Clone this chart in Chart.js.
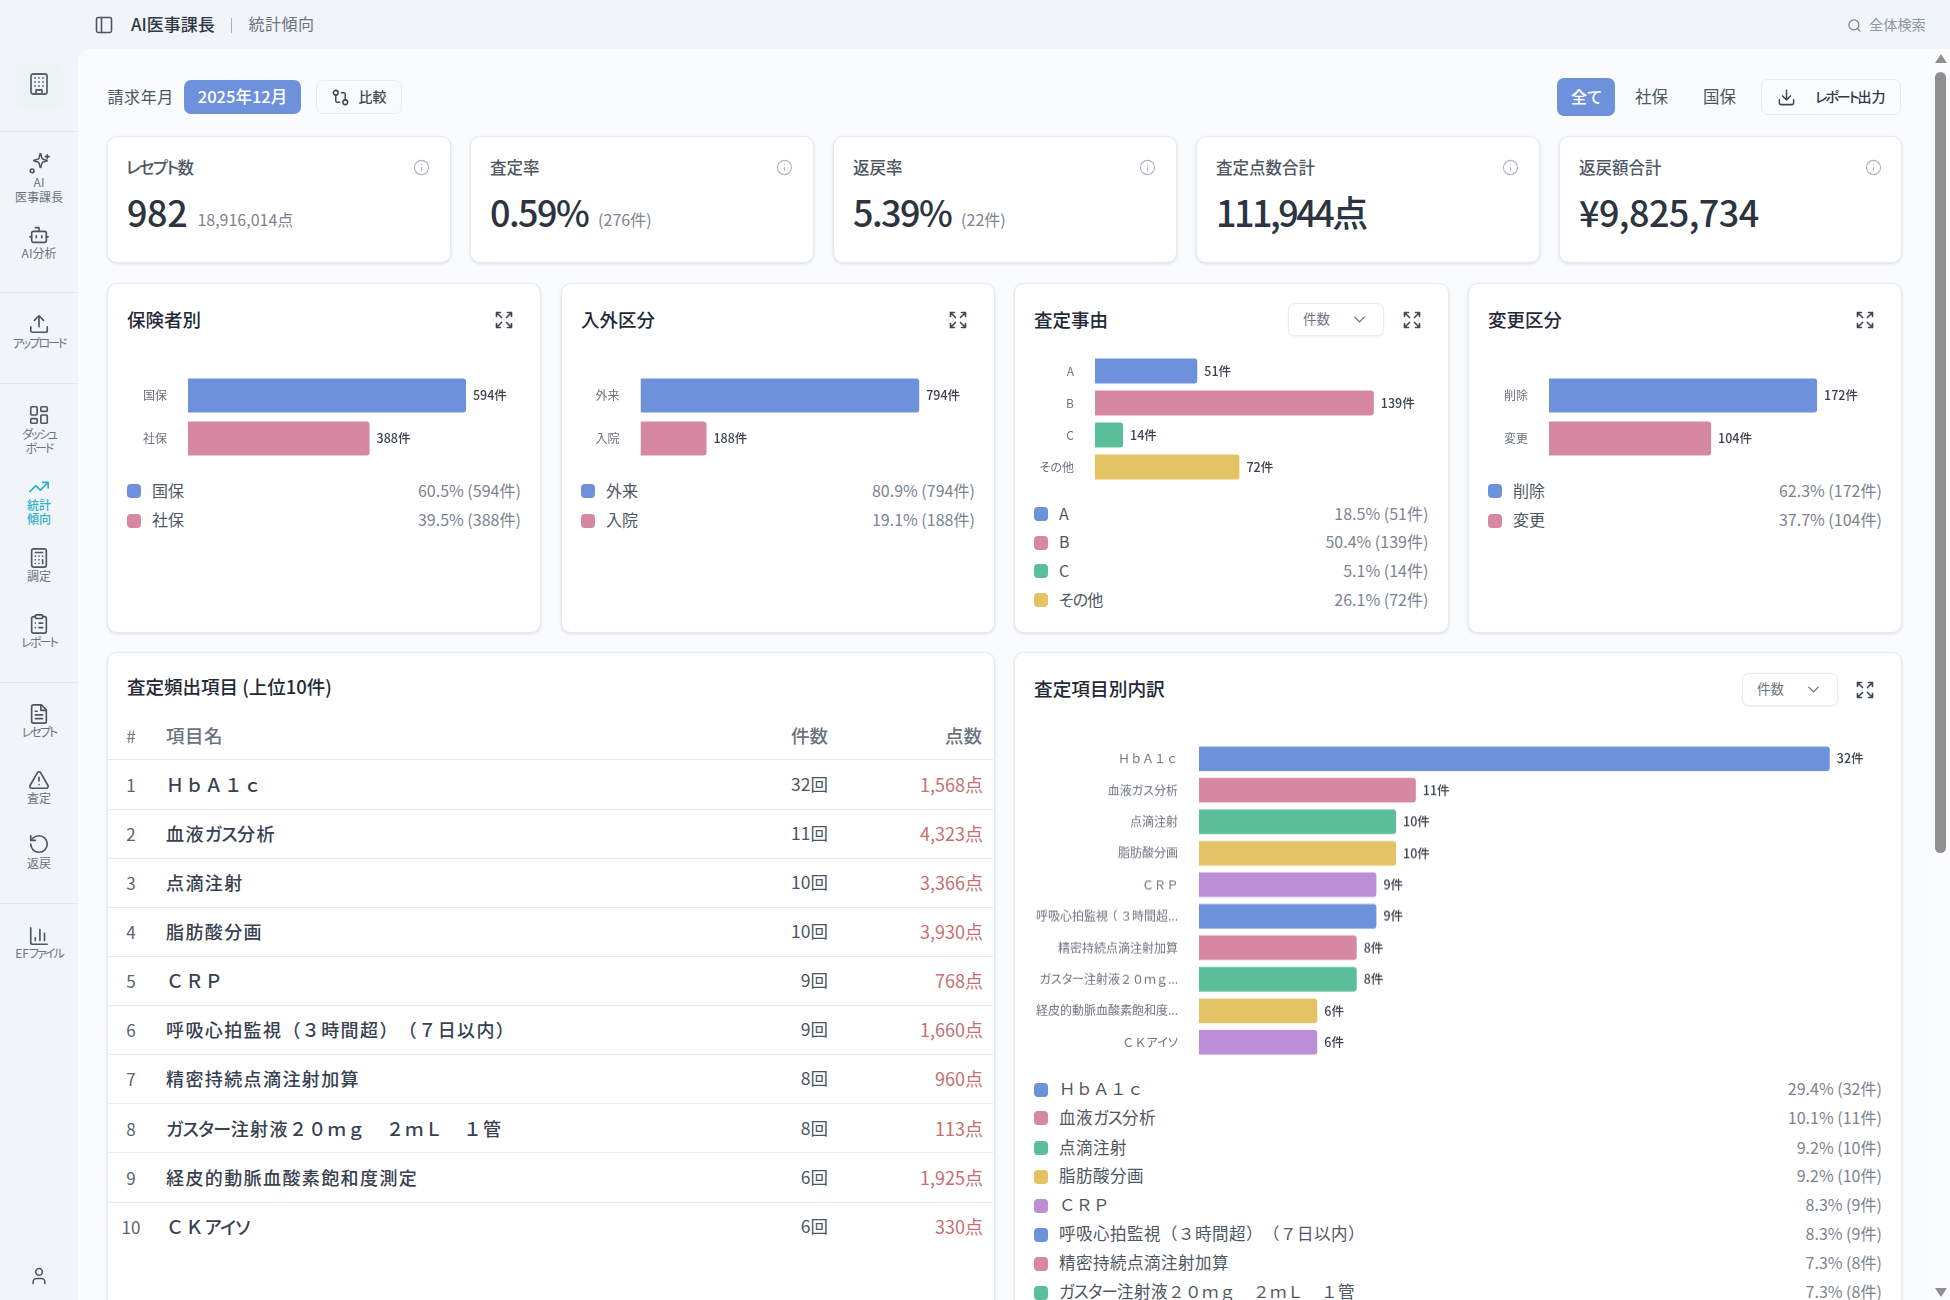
<!DOCTYPE html>
<html lang="ja"><head><meta charset="utf-8"><title>統計傾向</title>
<script src="https://cdn.jsdelivr.net/npm/chart.js@4"></script>
<style>
html,body{margin:0;padding:0;width:1950px;height:1300px;overflow:hidden;background:#f1f4f8;font-family:"Noto Sans CJK JP","Noto Sans",sans-serif;font-feature-settings:"palt";text-spacing-trim:space-all}
#page{position:absolute;left:0;top:0;width:1950px;height:1300px;overflow:hidden}
.a{position:absolute;box-sizing:border-box}
.t{position:absolute;white-space:pre;line-height:1;transform:translateY(-50%)}
.t span.f{font-feature-settings:normal}
.card{position:absolute;box-sizing:border-box;background:#fff;border:1px solid #e6eaef;border-radius:10px;box-shadow:0 1px 3px rgba(60,70,90,.16)}
canvas{position:absolute;display:block}
svg.i{position:absolute;fill:none;stroke:currentColor;stroke-linecap:round;stroke-linejoin:round}
</style></head><body><div id="page"></div>
<script>
// ---- data ----
const insurerLabels=['国保','社保'];
const insurerValues=[594,388];
const insurerPct=[60.5,39.5];
const visitLabels=['外来','入院'];
const visitValues=[794,188];
const visitPct=[80.9,19.1];
const reasonLabels=['A','B','C','その他'];
const reasonValues=[51,139,14,72];
const reasonPct=[18.5,50.4,5.1,26.1];
const changeLabels=['削除','変更'];
const changeValues=[172,104];
const changePct=[62.3,37.7];
const itemNames=['ＨｂＡ１ｃ','血液ガス分析','点滴注射','脂肪酸分画','ＣＲＰ','呼吸心拍監視（３時間超）（７日以内）','精密持続点滴注射加算','ガスター注射液２０ｍｇ　２ｍＬ　１管','経皮的動脈血酸素飽和度測定','ＣＫアイソ'];
const itemTicks=['ＨｂＡ１ｃ','血液ガス分析','点滴注射','脂肪酸分画','ＣＲＰ','呼吸心拍監視（３時間超...','精密持続点滴注射加算','ガスター注射液２０ｍｇ...','経皮的動脈血酸素飽和度...','ＣＫアイソ'];
const itemCounts=[32,11,10,10,9,9,8,8,6,6];
const itemPoints=['1,568','4,323','3,366','3,930','768','1,660','960','113','1,925','330'];
const itemPct=[29.4,10.1,9.2,9.2,8.3,8.3,7.3,7.3,5.5,5.5];
const kpiTitles=['レセプト数','査定率','返戻率','査定点数合計','返戻額合計'];
const kpiValues=['982','0.59%','5.39%','111,944点','¥9,825,734'];
const kpiSubs=['18,916,014点','(276件)','(22件)','',''];
const palette=['#6d91da','#d688a2','#5bbe9b','#e4c365','#bc8ed5'];

const FONT='"Noto Sans CJK JP","Noto Sans",sans-serif';
const kpiSpacing=[-.4,-1.6,-1.6,-2.5,-.6];
const page=document.getElementById('page');
const I={
panel:'<rect x="3" y="3" width="18" height="18" rx="2"/><path d="M9 3v18"/>',
building:'<rect x="4" y="2" width="16" height="20" rx="2"/><path d="M9 22v-4h6v4M8 6h.01M16 6h.01M12 6h.01M12 10h.01M12 14h.01M16 10h.01M16 14h.01M8 10h.01M8 14h.01"/>',
spark:'<path d="M9.9 15.5A2 2 0 0 0 8.5 14L4 12.8a.5.5 0 0 1 0-1L8.5 10.6A2 2 0 0 0 9.9 9.2L11 4.5a.5.5 0 0 1 1 0L13.2 9.2A2 2 0 0 0 14.6 10.6L19 11.8a.5.5 0 0 1 0 1L14.6 14A2 2 0 0 0 13.2 15.5L12 20a.5.5 0 0 1-1 0z" transform="translate(3 -3) scale(.92)"/><circle cx="4.5" cy="19.5" r="2"/><path d="M21 2v4M19 4h4"/>',
bot:'<path d="M12 8V4H8"/><rect x="4" y="8" width="16" height="12" rx="2"/><path d="M2 14h2M20 14h2M15 13v2M9 13v2"/>',
upload:'<path d="M21 15v4a2 2 0 0 1-2 2H5a2 2 0 0 1-2-2v-4"/><path d="M17 8l-5-5-5 5M12 3v12"/>',
dash:'<rect x="3" y="3" width="7" height="9" rx="1"/><rect x="14" y="3" width="7" height="5" rx="1"/><rect x="14" y="12" width="7" height="9" rx="1"/><rect x="3" y="16" width="7" height="5" rx="1"/>',
trend:'<path d="M22 7l-8.5 8.5-5-5L2 17M16 7h6v6"/>',
calc:'<rect x="4" y="2" width="16" height="20" rx="2"/><path d="M8 6h8M16 14v4M16 10h.01M12 10h.01M8 10h.01M12 14h.01M8 14h.01M12 18h.01M8 18h.01"/>',
clip:'<rect x="8" y="2" width="8" height="4" rx="1"/><path d="M16 4h2a2 2 0 0 1 2 2v14a2 2 0 0 1-2 2H6a2 2 0 0 1-2-2V6a2 2 0 0 1 2-2h2M12 11h4M12 16h4M8 11h.01M8 16h.01"/>',
file:'<path d="M14.5 2H6a2 2 0 0 0-2 2v16a2 2 0 0 0 2 2h12a2 2 0 0 0 2-2V7.5L14.5 2z"/><path d="M14 2v6h6M16 13H8M16 17H8M10 9H8"/>',
alert:'<path d="M21.73 18l-8-14a2 2 0 0 0-3.48 0l-8 14A2 2 0 0 0 4 21h16a2 2 0 0 0 1.73-3M12 9v4M12 17h.01"/>',
undo:'<path d="M3 12a9 9 0 1 0 9-9 9.75 9.75 0 0 0-6.74 2.74L3 8"/><path d="M3 3v5h5"/>',
bars:'<path d="M3 3v16a2 2 0 0 0 2 2h16M18 17V9M13 17V5M8 17v-3"/>',
user:'<path d="M19 21v-2a4 4 0 0 0-4-4H9a4 4 0 0 0-4 4v2"/><circle cx="12" cy="7" r="4"/>',
search:'<circle cx="11" cy="11" r="8"/><path d="M21 21l-4.3-4.3"/>',
info:'<circle cx="12" cy="12" r="10"/><path d="M12 16v-4M12 8h.01"/>',
down:'<path d="M21 15v4a2 2 0 0 1-2 2H5a2 2 0 0 1-2-2v-4M7 10l5 5 5-5M12 15V3"/>',
compare:'<circle cx="18" cy="18" r="3"/><circle cx="6" cy="6" r="3"/><path d="M13 6h3a2 2 0 0 1 2 2v7M11 18H8a2 2 0 0 1-2-2V9"/>',
expand:'<path d="M21 21l-6-6m6 6v-4.8m0 4.8h-4.8M3 16.2V21m0 0h4.8M3 21l6-6M21 7.8V3m0 0h-4.8M21 3l-6 6M3 7.8V3m0 0h4.8M3 3l6 6"/>',
chev:'<path d="M6 9l6 6 6-6"/>'
};
function box(x,y,w,h,css){const d=document.createElement('div');d.className='a';d.style.cssText+=`left:${x}px;top:${y}px;width:${w}px;height:${h}px;${css||''}`;page.appendChild(d);return d}
function card(x,y,w,h){const d=document.createElement('div');d.className='card';d.style.cssText=`left:${x-.5}px;top:${y}px;width:${w+1}px;height:${h}px`;page.appendChild(d);return d}
function txt(x,y,s,size,color,opt){opt=opt||{};const d=document.createElement('div');d.className='t';
 // full-width latin, digits and brackets keep their full width; kana run narrower, as in the reference
 s.split(/([\uFF01-\uFF5E\u3000]+|[\u3040-\u30FF]+)/).forEach((p,i)=>{if(!p)return;if(i%2){const e=document.createElement('span');e.textContent=p;
   if(/^[\u3040-\u30FF]/.test(p))e.style.letterSpacing=(opt.kls!==undefined?opt.kls:-.05)+'em';else e.className='f';d.appendChild(e)}else d.appendChild(document.createTextNode(p))});
 d.style.top=(y-1.2)+'px';d.style.fontSize=size+'px';d.style.color=color;d.style.fontWeight=opt.w||400;
 if(opt.ls)d.style.letterSpacing=opt.ls+'px';
 if(opt.align==='right'){d.style.right=(1950-x)+'px'}else if(opt.align==='center'){d.style.left=x+'px';d.style.transform='translate(-50%,-50%)';d.style.textAlign='center'}else{d.style.left=x+'px'}
 page.appendChild(d);return d}
function icon(name,cx,cy,size,color,sw){const s=document.createElementNS('http://www.w3.org/2000/svg','svg');s.setAttribute('class','i');s.setAttribute('viewBox','0 0 24 24');s.setAttribute('width',size);s.setAttribute('height',size);s.style.left=(cx-size/2)+'px';s.style.top=(cy-size/2)+'px';s.style.color=color;s.style.strokeWidth=sw||2;s.innerHTML=I[name];page.appendChild(s)}

// shell
box(78,49,1872,1251,'background:#f9fbfd;border-top-left-radius:12px');
// top bar
icon('panel',104,24.5,20,'#4b5563',1.9);
txt(131,24.5,'AI医事課長',17,'#2f3946',{w:500});
box(231,18,1,15,'background:#aab1ba');
txt(248.5,24.5,'統計傾向',16,'#6b7380',{ls:.5});
icon('search',1854,25,15,'#7a818c',2);
txt(1869,25,'全体検索',14.2,'#8f96a0');
// sidebar
[131,292,383,682,903].forEach(y=>box(0,y,78,1,'background:#e1e6ec'));
box(15,63,48,46,'background:#eef3f5;border-radius:8px');
icon('building',39,84,24,'#5b6570',1.8);
const navColor='#4d5662',navText='#6b7380';
const nav=[['spark',163.5,['AI','医事課長'],183.5],['bot',235,['AI分析'],254],['upload',324,['アップロード'],344],['dash',415,['ダッシュ','ボード'],435],['trend',487,['統計','傾向'],506,1],['calc',558,['調定'],577],['clip',624,['レポート'],643],['file',714,['レセプト'],733],['alert',780,['査定'],799],['undo',844,['返戻'],864],['bars',935.5,['EFファイル'],954]];
nav.forEach(n=>{const c=n[4]?'#2cb4c8':navColor;icon(n[0],39,n[1],22,c,1.8);n[2].forEach((l,i)=>txt(39,n[3]+i*14.5,l,12,n[4]?'#2cb4c8':navText,{align:'center',w:n[4]?500:400,kls:-.16}))});
icon('user',39,1275.5,20,'#4d5662',1.9);
// scrollbar
box(1934,49,16,1251,'background:#fbfcfd');
box(1935,72,11,781,'background:#8f8f8f;border-radius:6px');
box(1935,54,12,9,'background:#8f8f8f;clip-path:polygon(50% 0,100% 100%,0 100%)');
box(1935,1288,12,9,'background:#8f8f8f;clip-path:polygon(0 0,100% 0,50% 100%)');
// filter row
txt(107.5,97,'請求年月',16,'#4b5563',{ls:.6});
box(184,80,117,34,'background:#6d91da;border-radius:7px');
txt(242.5,97,'2025年12月',16.5,'#fff',{align:'center',w:500});
box(316,80,86,34,'background:#f8fafb;border:1px solid #e8ecf0;border-radius:7px');
icon('compare',340,97,19,'#3f4854',1.9);
txt(358.5,97,'比較',14,'#3f4854',{w:500});
box(1557,78,58,38,'background:#6d91da;border-radius:7px');
txt(1586,97.5,'全て',16,'#fff',{align:'center',w:500});
txt(1635,97.5,'社保',16.5,'#4b5563');
txt(1703,97.5,'国保',16.5,'#4b5563');
box(1761,79,140,36,'background:#fbfcfd;border:1px solid #e8ecf0;border-radius:7px');
icon('down',1786,97.5,19,'#3f4854',1.9);
txt(1815,97.5,'レポート出力',14,'#2f3946',{w:500,kls:-.14});
// KPI cards
const kpiX=[107,470,833,1196,1559];
kpiTitles.forEach((t,i)=>{const x=kpiX[i];card(x,136,i==4?342:343,126.5);
 txt(i==0?x+19:x+20,168,t,16.5,'#4e5764',{w:500,kls:-.1});
 icon('info',x+314,167,17,'#b0b5bd',1.6);
 const v=txt(x+20,212,kpiValues[i],36,'#2b3440',{w:500,ls:kpiSpacing[i]});
 if(kpiSubs[i]){const w=v.getBoundingClientRect().width;txt(x+20+w+10,220,kpiSubs[i],16,'#7b8490')}
});
// plugins: both read positions from the library's own bars and scales
const valueLabels={id:'valueLabels',afterDatasetsDraw(c){const ctx=c.ctx;ctx.save();ctx.font='500 12.5px '+FONT;ctx.fillStyle='#3a434f';ctx.textBaseline='middle';ctx.textAlign='left';
 c.getDatasetMeta(0).data.forEach((b,i)=>ctx.fillText(c.data.datasets[0].data[i]+'件',b.x+7,b.y));ctx.restore()}};
const TICK=12;
const tickLabels={id:'tickLabels',afterDraw(c){const ctx=c.ctx,sc=c.scales.y;ctx.save();ctx.font=TICK+'px '+FONT;ctx.fillStyle='#6b7380';ctx.textBaseline='middle';ctx.textAlign='left';
 const adv=ch=>/[\uFF01-\uFF5E]/.test(ch)?TICK:ctx.measureText(ch).width;
 c.data.labels.forEach((l,i)=>{const chars=[...l];let x=c.chartArea.left-21-chars.reduce((a,ch)=>a+adv(ch),0);const y=sc.getPixelForTick(i);
  chars.forEach(ch=>{const a=adv(ch);ctx.fillText(ch,x+(a-ctx.measureText(ch).width)/2,y);x+=a})});ctx.restore()}};
function bars(host,labels,values,axisMax,pct){
 const cv=document.createElement('canvas');cv.width=host.w;cv.height=host.h;cv.style.left=host.x+'px';cv.style.top=host.y+'px';cv.style.width=host.w+'px';cv.style.height=host.h+'px';page.appendChild(cv);
 new Chart(cv,{type:'bar',plugins:[valueLabels,tickLabels],data:{labels,datasets:[{data:values,backgroundColor:values.map((_,i)=>palette[i%palette.length]),borderWidth:0,borderRadius:3,barPercentage:pct,categoryPercentage:1}]},
 options:{indexAxis:'y',responsive:false,animation:false,devicePixelRatio:1,layout:{padding:0},plugins:{legend:{display:false},tooltip:{enabled:false}},
 scales:{x:{display:false,min:0,max:axisMax},y:{afterFit(s){s.width=host.axis;s.paddingTop=0;s.paddingBottom=0},grid:{display:false,drawTicks:false},border:{display:false},ticks:{display:false}}}}});
}
function legend(x,right,ys,labels,pct,values,o){o=o||{};ys.forEach((y,i)=>{box(x,y-7,14,14,`background:${palette[i%palette.length]};border-radius:4px`);
 txt(x+25,y,labels[i],o.size||16,'#4e5764',{ls:o.ls});txt(right,y,pct[i].toFixed(1)+'% ('+values[i]+'件)',16,'#7b8490',{align:'right'})})}
function expand(x,y){icon('expand',x,y,20,'#3f4854',2)}
function select(x,y,w){box(x,y,w,33,'background:#fff;border:1px solid #e8ecf0;border-radius:7px;box-shadow:0 1px 2px rgba(60,70,90,.08)');txt(x+15,y+17.5,'件数',13.5,'#6b7380');icon('chev',x+71,y+16.5,19,'#6b7380',1.7)}
// four chart cards
const cx=[107,561,1014,1468],cw=[433,433,434,433];
const titles=['保険者別','入外区分','査定事由','変更区分'];
titles.forEach((t,i)=>{card(cx[i],283,cw[i],349.5);txt(cx[i]+20,320,t,18.5,'#1f2937',{w:500});expand(cx[i]+cw[i]-36.5,320)});
select(1288,303,96);
bars({x:127,y:374,w:393,h:86,axis:61},insurerLabels,insurerValues,709.4,.79);
bars({x:581,y:374,w:393,h:86,axis:59.5},visitLabels,visitValues,950,.79);
bars({x:1034,y:355,w:394,h:128,axis:61},reasonLabels,reasonValues,166,.78);
bars({x:1488,y:374,w:393,h:86,axis:61},changeLabels,changeValues,213,.79);
legend(127,520.8,[491,520.5],insurerLabels,insurerPct,insurerValues);
legend(581,974.8,[491,520.5],visitLabels,visitPct,visitValues);
legend(1034,1428.3,[514,542.5,571,600],reasonLabels,reasonPct,reasonValues);
legend(1488,1881.8,[491,520.5],changeLabels,changePct,changeValues);
// table card
card(107,652,887,700);
txt(127,687.5,'査定頻出項目 (上位10件)',18.5,'#1f2937',{w:500});
txt(131,736,'#',17,'#6b7380',{align:'center'});
txt(166,736,'項目名',18.5,'#6b7380',{w:500,ls:.5});
txt(828,736,'件数',18.5,'#6b7380',{align:'right',w:500});
txt(982,736,'点数',18.5,'#6b7380',{align:'right',w:500});
box(108,759,885,1,'background:#e6eaef');
itemNames.forEach((n,i)=>{const y=785+i*49.1;
 if(i<9)box(108,Math.round(y+23.7),885,1,'background:#e8ecf0');
 txt(131,y,String(i+1),17,'#5b6470',{align:'center'});
 txt(166,y,n,18,'#374151',{w:500,ls:1.4,kls:-.03});
 txt(828,y,itemCounts[i]+'回',17.5,'#4b5563',{align:'right'});
 txt(983,y,itemPoints[i]+'点',18,'#c76f6f',{align:'right'});
});
// breakdown card
card(1014,652,887,700);
txt(1034,689,'査定項目別内訳',18.7,'#1f2937',{w:500});
select(1742,673,96);expand(1865,690);
bars({x:1034,y:743,w:847,h:314.5,axis:165},itemTicks,itemCounts,34.6,.78);
legend(1034,1881.8,[1089.5,1118,1148,1176.5,1205.5,1234.5,1263.5,1292.5],itemNames,itemPct,itemCounts,{size:16.5,ls:.5});
</script></body></html>
